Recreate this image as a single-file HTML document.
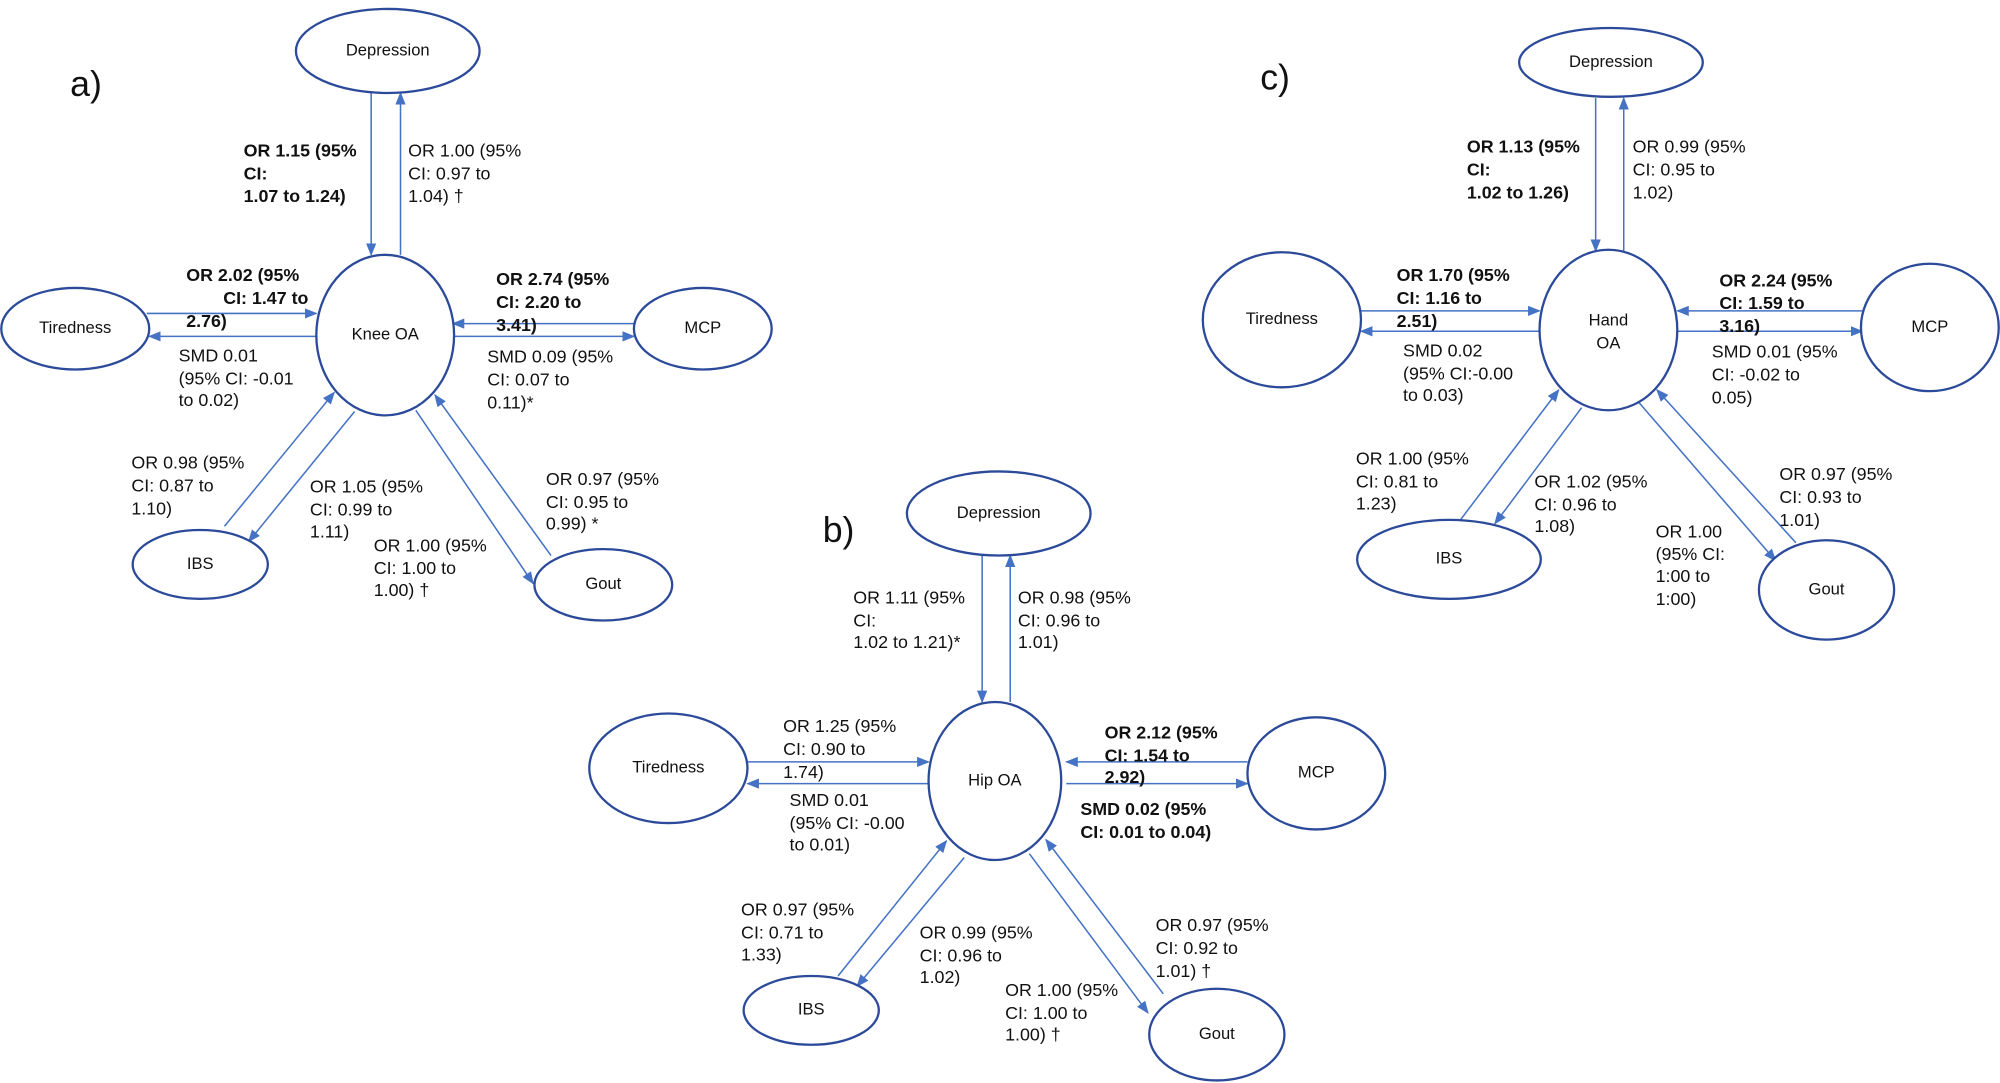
<!DOCTYPE html>
<html><head><meta charset="utf-8"><style>
html,body{margin:0;padding:0;background:#fff;}
svg{display:block;}
text{font-family:"Liberation Sans",Arial,sans-serif;font-size:14px;fill:#111;dominant-baseline:middle;}
.b{font-weight:bold;}
.n{font-size:13px;text-anchor:middle;}
.p{font-size:28px;}
ellipse{fill:#fff;stroke:#2c4a9a;stroke-width:1.8;}
line{stroke:#4472c4;stroke-width:1.2;marker-end:url(#ah);}
</style></head><body>
<svg width="2000" height="1083" viewBox="0 0 1568 850" preserveAspectRatio="none">
<defs><marker id="ah" markerWidth="10" markerHeight="8" refX="9" refY="4" orient="auto" markerUnits="userSpaceOnUse"><path d="M0,0 L10,4 L0,8 z" fill="#4472c4"/></marker></defs>
<rect width="1568" height="850" fill="#fff"/>

<!-- Panel a -->
<text class="p" x="55" y="68">a)</text>
<line x1="291" y1="73" x2="291" y2="200"/>
<line x1="314" y1="200" x2="314" y2="73"/>
<line x1="115" y1="246" x2="248" y2="246"/>
<line x1="248" y1="264" x2="117" y2="264"/>
<line x1="497" y1="254" x2="355" y2="254"/>
<line x1="355" y1="264" x2="497" y2="264"/>
<line x1="176" y1="413" x2="262" y2="308"/>
<line x1="278" y1="323" x2="195" y2="425"/>
<line x1="326" y1="322" x2="418" y2="458"/>
<line x1="432" y1="436" x2="341" y2="310"/>
<ellipse cx="304" cy="40" rx="72" ry="33"/><text class="n" x="304" y="40">Depression</text>
<ellipse cx="302" cy="263" rx="54" ry="63"/><text class="n" x="302" y="263">Knee OA</text>
<ellipse cx="59" cy="258" rx="58" ry="32"/><text class="n" x="59" y="258">Tiredness</text>
<ellipse cx="551" cy="258" rx="54" ry="32"/><text class="n" x="551" y="258">MCP</text>
<ellipse cx="157" cy="443" rx="53" ry="27"/><text class="n" x="157" y="443">IBS</text>
<ellipse cx="473" cy="459" rx="54" ry="28"/><text class="n" x="473" y="459">Gout</text>
<text class="b" x="191" y="119">OR 1.15 (95%</text><text class="b" x="191" y="137">CI:</text><text class="b" x="191" y="155">1.07 to 1.24)</text>
<text x="320" y="119">OR 1.00 (95%</text><text x="320" y="137">CI: 0.97 to</text><text x="320" y="155">1.04) †</text>
<text class="b" x="146" y="217">OR 2.02 (95%</text><text class="b" x="175" y="235">CI: 1.47 to</text><text class="b" x="146" y="253">2.76)</text>
<text x="140" y="280">SMD 0.01</text><text x="140" y="298">(95% CI: -0.01</text><text x="140" y="315">to 0.02)</text>
<text class="b" x="389" y="220">OR 2.74 (95%</text><text class="b" x="389" y="238">CI: 2.20 to</text><text class="b" x="389" y="256">3.41)</text>
<text x="382" y="281">SMD 0.09 (95%</text><text x="382" y="299">CI: 0.07 to</text><text x="382" y="317">0.11)*</text>
<text x="103" y="364">OR 0.98 (95%</text><text x="103" y="382">CI: 0.87 to</text><text x="103" y="400">1.10)</text>
<text x="243" y="383">OR 1.05 (95%</text><text x="243" y="401">CI: 0.99 to</text><text x="243" y="418">1.11)</text>
<text x="428" y="377">OR 0.97 (95%</text><text x="428" y="395">CI: 0.95 to</text><text x="428" y="412">0.99) *</text>
<text x="293" y="429">OR 1.00 (95%</text><text x="293" y="447">CI: 1.00 to</text><text x="293" y="464">1.00) †</text>

<!-- Panel b -->
<text class="p" x="645" y="418">b)</text>
<line x1="770" y1="436" x2="770" y2="551"/>
<line x1="792" y1="551" x2="792" y2="436"/>
<line x1="586" y1="598" x2="728" y2="598"/>
<line x1="728" y1="615" x2="586" y2="615"/>
<line x1="978" y1="598" x2="836" y2="598"/>
<line x1="836" y1="615" x2="978" y2="615"/>
<line x1="657" y1="766" x2="742" y2="660"/>
<line x1="756" y1="673" x2="672" y2="774"/>
<line x1="807" y1="670" x2="900" y2="795"/>
<line x1="912" y1="780" x2="820" y2="659"/>
<ellipse cx="783" cy="403" rx="72" ry="33"/><text class="n" x="783" y="403">Depression</text>
<ellipse cx="780" cy="613" rx="52" ry="62"/><text class="n" x="780" y="613">Hip OA</text>
<ellipse cx="524" cy="603" rx="62" ry="43"/><text class="n" x="524" y="603">Tiredness</text>
<ellipse cx="1032" cy="607" rx="54" ry="44"/><text class="n" x="1032" y="607">MCP</text>
<ellipse cx="636" cy="793" rx="53" ry="27"/><text class="n" x="636" y="793">IBS</text>
<ellipse cx="954" cy="812" rx="53" ry="36"/><text class="n" x="954" y="812">Gout</text>
<text x="669" y="470">OR 1.11 (95%</text><text x="669" y="488">CI:</text><text x="669" y="505">1.02 to 1.21)*</text>
<text x="798" y="470">OR 0.98 (95%</text><text x="798" y="488">CI: 0.96 to</text><text x="798" y="505">1.01)</text>
<text x="614" y="571">OR 1.25 (95%</text><text x="614" y="589">CI: 0.90 to</text><text x="614" y="607">1.74)</text>
<text x="619" y="629">SMD 0.01</text><text x="619" y="647">(95% CI: -0.00</text><text x="619" y="664">to 0.01)</text>
<text class="b" x="866" y="576">OR 2.12 (95%</text><text class="b" x="866" y="594">CI: 1.54 to</text><text class="b" x="866" y="611">2.92)</text>
<text class="b" x="847" y="636">SMD 0.02 (95%</text><text class="b" x="847" y="654">CI: 0.01 to 0.04)</text>
<text x="581" y="715">OR 0.97 (95%</text><text x="581" y="733">CI: 0.71 to</text><text x="581" y="750">1.33)</text>
<text x="721" y="733">OR 0.99 (95%</text><text x="721" y="751">CI: 0.96 to</text><text x="721" y="768">1.02)</text>
<text x="788" y="778">OR 1.00 (95%</text><text x="788" y="796">CI: 1.00 to</text><text x="788" y="813">1.00) †</text>
<text x="906" y="727">OR 0.97 (95%</text><text x="906" y="745">CI: 0.92 to</text><text x="906" y="763">1.01) †</text>

<!-- Panel c -->
<text class="p" x="988" y="63">c)</text>
<line x1="1251" y1="77" x2="1251" y2="197"/>
<line x1="1273" y1="197" x2="1273" y2="77"/>
<line x1="1067" y1="244" x2="1207" y2="244"/>
<line x1="1207" y1="260" x2="1067" y2="260"/>
<line x1="1460" y1="244" x2="1315" y2="244"/>
<line x1="1315" y1="260" x2="1460" y2="260"/>
<line x1="1145" y1="408" x2="1222" y2="306"/>
<line x1="1240" y1="320" x2="1172" y2="411"/>
<line x1="1285" y1="316" x2="1392" y2="440"/>
<line x1="1408" y1="426" x2="1299" y2="306"/>
<ellipse cx="1263" cy="49" rx="72" ry="27"/><text class="n" x="1263" y="49">Depression</text>
<ellipse cx="1261" cy="259" rx="54" ry="63"/><text class="n" x="1261" y="252">Hand</text><text class="n" x="1261" y="270">OA</text>
<ellipse cx="1005" cy="251" rx="62" ry="53"/><text class="n" x="1005" y="251">Tiredness</text>
<ellipse cx="1513" cy="257" rx="54" ry="50"/><text class="n" x="1513" y="257">MCP</text>
<ellipse cx="1136" cy="439" rx="72" ry="31"/><text class="n" x="1136" y="439">IBS</text>
<ellipse cx="1432" cy="463" rx="53" ry="39"/><text class="n" x="1432" y="463">Gout</text>
<text class="b" x="1150" y="116">OR 1.13 (95%</text><text class="b" x="1150" y="134">CI:</text><text class="b" x="1150" y="152">1.02 to 1.26)</text>
<text x="1280" y="116">OR 0.99 (95%</text><text x="1280" y="134">CI: 0.95 to</text><text x="1280" y="152">1.02)</text>
<text class="b" x="1095" y="217">OR 1.70 (95%</text><text class="b" x="1095" y="235">CI: 1.16 to</text><text class="b" x="1095" y="253">2.51)</text>
<text x="1100" y="276">SMD 0.02</text><text x="1100" y="294">(95% CI:-0.00</text><text x="1100" y="311">to 0.03)</text>
<text class="b" x="1348" y="221">OR 2.24 (95%</text><text class="b" x="1348" y="239">CI: 1.59 to</text><text class="b" x="1348" y="257">3.16)</text>
<text x="1342" y="277">SMD 0.01 (95%</text><text x="1342" y="295">CI: -0.02 to</text><text x="1342" y="313">0.05)</text>
<text x="1063" y="361">OR 1.00 (95%</text><text x="1063" y="379">CI: 0.81 to</text><text x="1063" y="396">1.23)</text>
<text x="1203" y="379">OR 1.02 (95%</text><text x="1203" y="397">CI: 0.96 to</text><text x="1203" y="414">1.08)</text>
<text x="1395" y="373">OR 0.97 (95%</text><text x="1395" y="391">CI: 0.93 to</text><text x="1395" y="409">1.01)</text>
<text x="1298" y="418">OR 1.00</text><text x="1298" y="436">(95% CI:</text><text x="1298" y="453">1:00 to</text><text x="1298" y="471">1:00)</text>
</svg>
</body></html>
